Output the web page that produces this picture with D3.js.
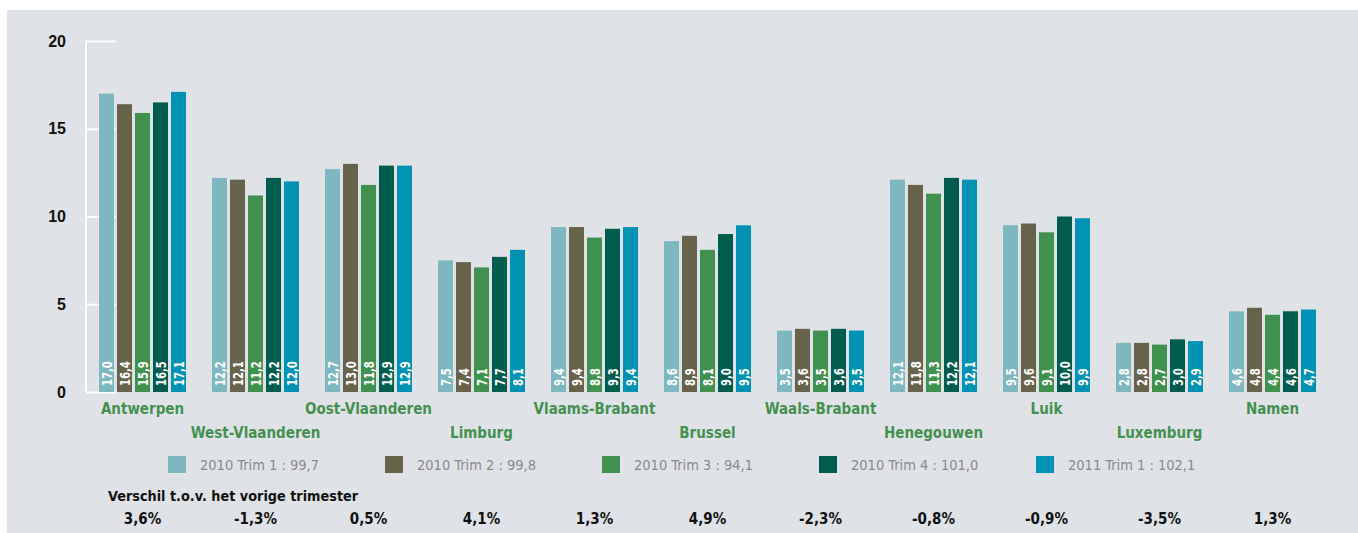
<!DOCTYPE html>
<html>
<head>
<meta charset="utf-8">
<script src="https://cdn.jsdelivr.net/npm/d3@7"></script>
<style>
  body { margin: 0; background: #fff; }
  svg { display: block; }
</style>
</head>
<body>
<div id="chart"></div>
<script>
// provinces, in drawing order
const provinces = ["Antwerpen", "West-Vlaanderen", "Oost-Vlaanderen", "Limburg", "Vlaams-Brabant",
  "Brussel", "Waals-Brabant", "Henegouwen", "Luik", "Luxemburg", "Namen"]

const seriesNames = ["2010 Trim 1 : 99,7", "2010 Trim 2 : 99,8", "2010 Trim 3 : 94,1",
  "2010 Trim 4 : 101,0", "2011 Trim 1 : 102,1"]

// one array per series, same order as provinces
const trim1_2010 = [17.0, 12.2, 12.7, 7.5, 9.4, 8.6, 3.5, 12.1, 9.5, 2.8, 4.6]
const trim2_2010 = [16.4, 12.1, 13.0, 7.4, 9.4, 8.9, 3.6, 11.8, 9.6, 2.8, 4.8]
const trim3_2010 = [15.9, 11.2, 11.8, 7.1, 8.8, 8.1, 3.5, 11.3, 9.1, 2.7, 4.4]
const trim4_2010 = [16.5, 12.2, 12.9, 7.7, 9.3, 9.0, 3.6, 12.2, 10.0, 3.0, 4.6]
const trim1_2011 = [17.1, 12.0, 12.9, 8.1, 9.4, 9.5, 3.5, 12.1, 9.9, 2.9, 4.7]

// difference vs previous quarter, in %
const diffPrev = [3.6, -1.3, 0.5, 4.1, 1.3, 4.9, -2.3, -0.8, -0.9, -3.5, 1.3]

const yTicks = [0, 5, 10, 15, 20]

const series = [trim1_2010, trim2_2010, trim3_2010, trim4_2010, trim1_2011]
const colors = ["#7db7bf", "#67634a", "#40914e", "#005d4d", "#0092b4"]

const W = 1358, H = 533
const fmt = v => v.toFixed(1).replace(".", ",")
const condensed = "'DejaVu Sans Condensed', 'Arial Narrow', sans-serif"

const svg = d3.select("#chart").append("svg")
  .attr("width", W)
  .attr("height", H)

// grey panel
svg.append("rect")
  .attr("x", 7).attr("y", 10)
  .attr("width", W - 7).attr("height", H - 10)
  .attr("fill", "#dfe3e7")

const x0 = d3.scaleBand()
  .domain(provinces)
  .range([86, 1329])
  .paddingInner(26 / 113)
  .paddingOuter(13 / 113)

const x1 = d3.scaleBand()
  .domain(d3.range(series.length))
  .range([0, x0.bandwidth()])
  .paddingInner(3 / 18)

const y = d3.scaleLinear()
  .domain([0, 20])
  .range([392, 41])

// y axis
const yAxis = svg.append("g")
  .attr("transform", "translate(86,0)")
  .call(d3.axisLeft(y).tickValues(yTicks).tickSize(-30).tickPadding(20).tickFormat(d3.format("d")))

yAxis.select(".domain").attr("stroke", "#fff").attr("stroke-width", 2)
  .attr("d", `M0,${y(20)}V${y(0)}`)
yAxis.selectAll(".tick line").attr("stroke", "#fff").attr("stroke-width", 2)
yAxis.selectAll(".tick text")
  .attr("fill", "#111")
  .style("font-family", "'Liberation Sans', Arial, sans-serif")
  .style("font-weight", "bold")
  .style("font-size", "16px")

// bars
const groups = svg.append("g")
  .selectAll("g")
  .data(provinces)
  .join("g")
  .attr("transform", d => `translate(${x0(d)},0)`)

const cells = groups.selectAll("g")
  .data((p, i) => series.map((s, k) => ({ k, v: s[i] })))
  .join("g")

cells.append("rect")
  .attr("x", d => x1(d.k))
  .attr("y", d => y(d.v))
  .attr("width", x1.bandwidth())
  .attr("height", d => y(0) - y(d.v))
  .attr("fill", d => colors[d.k])

// value labels, squeezed along the text direction like the narrow original face
cells.append("text")
  .attr("transform", d => `translate(${x1(d.k) + x1.bandwidth() / 2 + 5},${y(0) - 6}) rotate(-90) scale(0.8,1)`)
  .attr("fill", "#fff")
  .style("font-family", condensed)
  .style("font-weight", "bold")
  .style("font-size", "14px")
  .text(d => fmt(d.v))

// category labels, staggered on two rows
svg.append("g")
  .selectAll("text")
  .data(provinces)
  .join("text")
  .attr("x", d => x0(d) + x0.bandwidth() / 2)
  .attr("y", (d, i) => i % 2 === 0 ? 414 : 438)
  .attr("text-anchor", "middle")
  .attr("fill", "#43914f")
  .style("font-family", condensed)
  .style("font-weight", "bold")
  .style("font-size", "15px")
  .text(d => d)

// legend
const legend = svg.append("g")
  .selectAll("g")
  .data(seriesNames)
  .join("g")
  .attr("transform", (d, i) => `translate(${168 + i * 217},456)`)

legend.append("rect")
  .attr("width", 18).attr("height", 17)
  .attr("fill", (d, i) => colors[i])

legend.append("text")
  .attr("x", 32).attr("y", 14)
  .attr("fill", "#8a8a8a")
  .style("font-family", condensed)
  .style("font-size", "14.5px")
  .text(d => d)

// difference row
svg.append("text")
  .attr("x", 108).attr("y", 501)
  .attr("fill", "#111")
  .style("font-family", condensed)
  .style("font-weight", "bold")
  .style("font-size", "14.3px")
  .text("Verschil t.o.v. het vorige trimester")

svg.append("g")
  .selectAll("text")
  .data(diffPrev)
  .join("text")
  .attr("x", (d, i) => x0(provinces[i]) + x0.bandwidth() / 2)
  .attr("y", 524)
  .attr("text-anchor", "middle")
  .attr("fill", "#111")
  .style("font-family", condensed)
  .style("font-weight", "bold")
  .style("font-size", "15px")
  .text(d => fmt(d) + "%")
</script>
</body>
</html>
